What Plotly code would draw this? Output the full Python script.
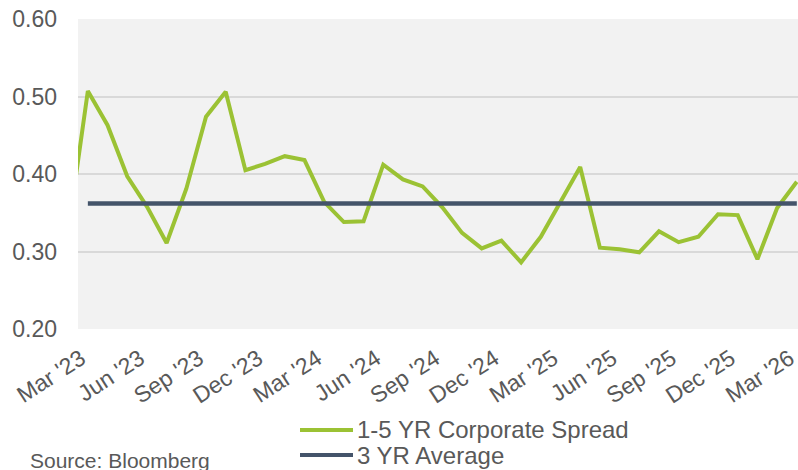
import plotly.graph_objects as go

# ---- data ----
months = [
    "Feb '23", "Mar '23", "Apr '23", "May '23", "Jun '23", "Jul '23", "Aug '23", "Sep '23",
    "Oct '23", "Nov '23", "Dec '23", "Jan '24", "Feb '24", "Mar '24", "Apr '24", "May '24",
    "Jun '24", "Jul '24", "Aug '24", "Sep '24", "Oct '24", "Nov '24", "Dec '24", "Jan '25",
    "Feb '25", "Mar '25", "Apr '25", "May '25", "Jun '25", "Jul '25", "Aug '25", "Sep '25",
    "Oct '25", "Nov '25", "Dec '25", "Jan '26", "Feb '26", "Mar '26",
]
spread = [
    0.326, 0.507, 0.463, 0.397, 0.358, 0.311, 0.381, 0.474,
    0.506, 0.405, 0.413, 0.423, 0.418, 0.364, 0.338, 0.339,
    0.412, 0.393, 0.384, 0.357, 0.324, 0.304, 0.314, 0.286,
    0.319, 0.364, 0.409, 0.305, 0.303, 0.299, 0.326, 0.312,
    0.319, 0.348, 0.347, 0.290, 0.356, 0.390,
]
avg_months = months[1:]
avg_value = [0.362] * len(avg_months)

tick_labels = ["Mar '23", "Jun '23", "Sep '23", "Dec '23", "Mar '24", "Jun '24", "Sep '24",
               "Dec '24", "Mar '25", "Jun '25", "Sep '25", "Dec '25", "Mar '26"]
y_ticks = [0.2, 0.3, 0.4, 0.5, 0.6]

series_names = ["1-5 YR Corporate Spread", "3 YR Average"]
source_text = "Source: Bloomberg"

GREEN = "#9BC234"
NAVY = "#44546A"
TEXT = "#595959"
FONT = "Liberation Sans, Arial, sans-serif"

fig = go.Figure()
fig.add_trace(go.Scatter(x=months, y=spread, mode="lines", name=series_names[0],
                         line=dict(color=GREEN, width=4), showlegend=False))
fig.add_trace(go.Scatter(x=avg_months, y=avg_value, mode="lines", name=series_names[1],
                         line=dict(color=NAVY, width=4.5), showlegend=False))

# plot area geometry in pixels (for placing legend / source)
L, R, T, B = 78, 798, 19, 329
def px(x):
    return (x - L) / (R - L)
def py(y):
    return (B - y) / (B - T)

# custom legend
for name, color, yy in [(series_names[0], GREEN, 430), (series_names[1], NAVY, 455)]:
    fig.add_shape(type="line", xref="paper", yref="paper",
                  x0=px(300), x1=px(353), y0=py(yy), y1=py(yy),
                  line=dict(color=color, width=4))
    fig.add_annotation(xref="paper", yref="paper", x=px(355), y=py(yy),
                       xanchor="left", yanchor="middle", text=name, showarrow=False,
                       font=dict(family=FONT, size=24, color=TEXT))

fig.add_annotation(xref="paper", yref="paper", x=px(28), y=py(460),
                   xanchor="left", yanchor="middle", text=source_text, showarrow=False,
                   font=dict(family=FONT, size=21, color=TEXT))

fig.update_layout(
    width=798, height=470,
    margin=dict(l=L, r=0, t=T, b=470 - B, autoexpand=False),
    paper_bgcolor="white",
    plot_bgcolor="#F2F2F2",
    font=dict(family=FONT, color=TEXT, size=23),
    xaxis=dict(
        type="category", categoryorder="array", categoryarray=months,
        range=[0.5, 37.06], automargin=False,
        tickmode="array", tickvals=tick_labels, ticktext=tick_labels,
        tickangle=-33, showgrid=False, showline=False, ticks="",
        tickfont=dict(size=23, color=TEXT, family=FONT),
        ticklabelstandoff=11, ticklabelshift=-7,
    ),
    yaxis=dict(
        range=[0.2, 0.6], tickvals=y_ticks, tickformat=".2f", automargin=False,
        showgrid=True, gridcolor="#D9D9D9", gridwidth=2,
        zeroline=False, showline=False, ticks="",
        tickfont=dict(size=23, color=TEXT, family=FONT),
        ticklabelstandoff=20,
    ),
)

fig.write_html(
    "out.html",
    config={"displayModeBar": False},
    post_script="document.body.style.margin='0';document.body.style.overflow='hidden';",
)
